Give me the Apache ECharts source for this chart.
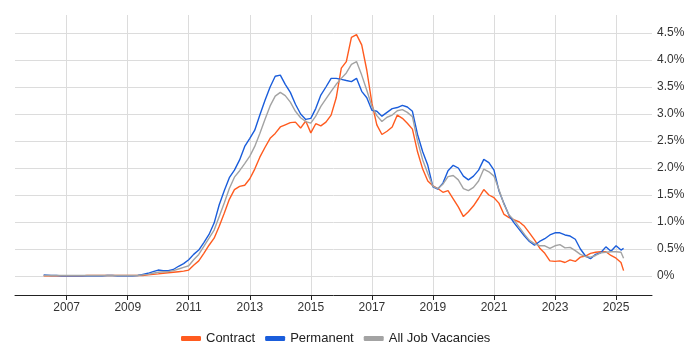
<!DOCTYPE html>
<html>
<head>
<meta charset="utf-8">
<script src="https://cdn.jsdelivr.net/npm/echarts@6/dist/echarts.min.js"></script>
<style>
  html, body { margin: 0; padding: 0; background: #fff; }
  #chart { width: 700px; height: 350px; }
</style>
</head>
<body>
<div id="chart"></div>
<script>
// sample dates (every ~2 months)
var months = [
  '2006-04', '2006-07', '2006-09', '2006-11',
  '2007-01', '2007-03', '2007-05', '2007-07', '2007-09', '2007-11',
  '2008-01', '2008-03', '2008-05', '2008-07', '2008-09', '2008-11',
  '2009-01', '2009-03', '2009-05', '2009-07', '2009-09', '2009-11',
  '2010-01', '2010-03', '2010-05', '2010-07', '2010-09', '2010-11',
  '2011-01', '2011-03', '2011-05', '2011-07', '2011-09', '2011-11',
  '2012-01', '2012-03', '2012-05', '2012-07', '2012-09', '2012-11',
  '2013-01', '2013-03', '2013-05', '2013-07', '2013-09', '2013-11',
  '2014-01', '2014-03', '2014-05', '2014-07', '2014-09', '2014-11',
  '2015-01', '2015-03', '2015-05', '2015-07', '2015-09', '2015-11',
  '2016-01', '2016-03', '2016-05', '2016-07', '2016-09', '2016-11',
  '2017-01', '2017-03', '2017-05', '2017-07', '2017-09', '2017-11',
  '2018-01', '2018-03', '2018-05', '2018-07', '2018-09', '2018-11',
  '2019-01', '2019-03', '2019-05', '2019-07', '2019-09', '2019-11',
  '2020-01', '2020-03', '2020-05', '2020-07', '2020-09', '2020-11',
  '2021-01', '2021-03', '2021-05', '2021-07', '2021-09', '2021-11',
  '2022-01', '2022-03', '2022-05', '2022-07', '2022-09', '2022-11',
  '2023-01', '2023-03', '2023-05', '2023-07', '2023-09', '2023-11',
  '2024-01', '2024-03', '2024-05', '2024-07', '2024-09', '2024-11',
  '2025-01', '2025-03', '2025-04'
];

// % of job ads
var contract = [
  0.00, 0.00, 0.00, 0.00,
  0.00, 0.00, 0.00, 0.00, 0.01, 0.01,
  0.01, 0.01, 0.01, 0.01, 0.01, 0.01,
  0.01, 0.01, 0.01, 0.01, 0.02, 0.03,
  0.04, 0.05, 0.06, 0.07, 0.08, 0.09,
  0.11, 0.20, 0.28, 0.42, 0.57, 0.70,
  0.92, 1.16, 1.42, 1.60, 1.66, 1.68,
  1.80, 1.98, 2.20, 2.38, 2.55, 2.64,
  2.76, 2.80, 2.84, 2.85, 2.74, 2.87,
  2.65, 2.82, 2.78, 2.85, 2.98, 3.30,
  3.85, 3.97, 4.42, 4.47, 4.28, 3.81,
  3.20, 2.80, 2.62, 2.68, 2.76, 2.98,
  2.92, 2.83, 2.72, 2.30, 1.98, 1.76,
  1.67, 1.62, 1.55, 1.58, 1.43, 1.28,
  1.10, 1.19, 1.30, 1.44, 1.60, 1.50,
  1.45, 1.35, 1.14, 1.08, 1.04, 1.00,
  0.92, 0.80, 0.67, 0.52, 0.42, 0.28,
  0.27, 0.28, 0.25, 0.30, 0.27, 0.35,
  0.37, 0.42, 0.44, 0.45, 0.45, 0.38,
  0.33, 0.25, 0.10
];
var permanent = [
  0.02, 0.01, 0.01, 0.00,
  0.00, 0.00, 0.00, 0.00, 0.00, 0.00,
  0.00, 0.00, 0.01, 0.01, 0.00, 0.00,
  0.00, 0.00, 0.01, 0.03, 0.05, 0.08,
  0.11, 0.10, 0.10, 0.12, 0.18, 0.23,
  0.30, 0.40, 0.48, 0.62, 0.77, 0.98,
  1.32, 1.58, 1.82, 1.96, 2.15, 2.40,
  2.55, 2.70, 2.98, 3.25, 3.50, 3.70,
  3.72, 3.55, 3.40, 3.18, 3.00, 2.90,
  2.92, 3.10, 3.35, 3.50, 3.66, 3.66,
  3.64, 3.62, 3.60, 3.66, 3.42, 3.30,
  3.07, 3.05, 2.96, 3.03, 3.10, 3.12,
  3.16, 3.13, 3.05, 2.62, 2.30, 2.05,
  1.65, 1.61, 1.72, 1.95, 2.05, 2.00,
  1.85, 1.78, 1.85, 1.96, 2.16, 2.10,
  1.96, 1.58, 1.34, 1.12, 0.98, 0.86,
  0.74, 0.64, 0.57, 0.64, 0.69, 0.76,
  0.80, 0.80, 0.76, 0.74, 0.68, 0.50,
  0.37, 0.32, 0.40, 0.43, 0.54, 0.46,
  0.56, 0.48, 0.51
];
var allJobs = [
  0.01, 0.01, 0.01, 0.01,
  0.01, 0.01, 0.01, 0.01, 0.01, 0.01,
  0.01, 0.01, 0.01, 0.01, 0.01, 0.01,
  0.01, 0.01, 0.01, 0.02, 0.03, 0.05,
  0.07, 0.08, 0.08, 0.10, 0.13, 0.16,
  0.19, 0.30, 0.40, 0.55, 0.70, 0.85,
  1.10, 1.35, 1.62, 1.83, 1.95, 2.08,
  2.22, 2.40, 2.64, 2.90, 3.15, 3.33,
  3.40, 3.34, 3.22, 3.05, 2.93, 2.86,
  2.83, 2.96, 3.14, 3.28, 3.42, 3.55,
  3.66, 3.76, 3.92, 3.97, 3.72, 3.44,
  3.14, 2.97, 2.86, 2.94, 2.98, 3.06,
  3.08, 3.03, 2.95, 2.50, 2.15, 1.90,
  1.66, 1.62, 1.70, 1.84, 1.86, 1.78,
  1.62, 1.58, 1.64, 1.76, 1.98, 1.93,
  1.85, 1.60, 1.33, 1.13, 1.03, 0.90,
  0.77, 0.66, 0.60, 0.56, 0.56, 0.51,
  0.56, 0.58, 0.52, 0.53, 0.47, 0.40,
  0.36, 0.35, 0.38, 0.43, 0.44, 0.45,
  0.45, 0.44, 0.33
];

var seriesNames = ['Contract', 'Permanent', 'All Job Vacancies'];
var seriesColors = ['#ff5b1f', '#1a5ddb', '#a3a3a3'];
var yTicks = [0, 0.5, 1, 1.5, 2, 2.5, 3, 3.5, 4, 4.5];

var xMin = '2005-04-23';
var xMax = '2026-03-07';
var TWO_YEARS = 2 * 365.25 * 24 * 3600 * 1000;

function pairs(vals) {
  return months.map(function (m, i) { return [m, vals[i]]; });
}

var chart = echarts.init(document.getElementById('chart'));
chart.setOption({
  animation: false,
  textStyle: { fontFamily: 'Liberation Sans, Arial, sans-serif' },
  legend: {
    data: seriesNames,
    left: 176,
    top: 327,
    icon: 'roundRect',
    itemWidth: 20,
    itemHeight: 5,
    itemGap: 10,
    textStyle: { fontSize: 13, color: '#222' }
  },
  grid: [
    // outer frame: vertical grid lines + time axis
    { left: 15, right: 48, top: 15, bottom: 55 },
    // plot area for the percentages
    { left: 15, right: 48, top: 33, bottom: 74 }
  ],
  xAxis: [
    {
      type: 'time',
      gridIndex: 0,
      min: xMin,
      max: xMax,
      minInterval: TWO_YEARS,
      maxInterval: TWO_YEARS,
      axisLine: { lineStyle: { color: '#222', width: 1 } },
      axisTick: { show: true, length: 5, lineStyle: { color: '#222' } },
      axisLabel: {
        fontSize: 12,
        color: '#333',
        margin: 7,
        showMinLabel: false,
        showMaxLabel: false,
        formatter: function (v) { return String(new Date(v).getFullYear()); }
      },
      splitLine: {
        show: true,
        showMinLine: false,
        showMaxLine: false,
        lineStyle: { color: '#dcdcdc', width: 1 }
      }
    },
    {
      type: 'time',
      gridIndex: 1,
      min: xMin,
      max: xMax,
      show: false
    }
  ],
  yAxis: [
    { type: 'value', gridIndex: 0, min: 0, max: 1, show: false },
    {
      type: 'value',
      gridIndex: 1,
      position: 'right',
      min: yTicks[0],
      max: yTicks[yTicks.length - 1],
      interval: 0.5,
      axisLine: { show: false },
      axisTick: { show: false },
      axisLabel: {
        fontSize: 12,
        color: '#333',
        margin: 5,
        formatter: function (v) { return v === 0 ? '0%' : v.toFixed(1) + '%'; }
      },
      splitLine: { lineStyle: { color: '#dcdcdc', width: 1 } }
    }
  ],
  series: [contract, permanent, allJobs].map(function (vals, i) {
    return {
      name: seriesNames[i],
      type: 'line',
      xAxisIndex: 1,
      yAxisIndex: 1,
      data: pairs(vals),
      showSymbol: false,
      color: seriesColors[i],
      lineStyle: { width: 1.4, color: seriesColors[i] }
    };
  })
});
</script>
</body>
</html>
